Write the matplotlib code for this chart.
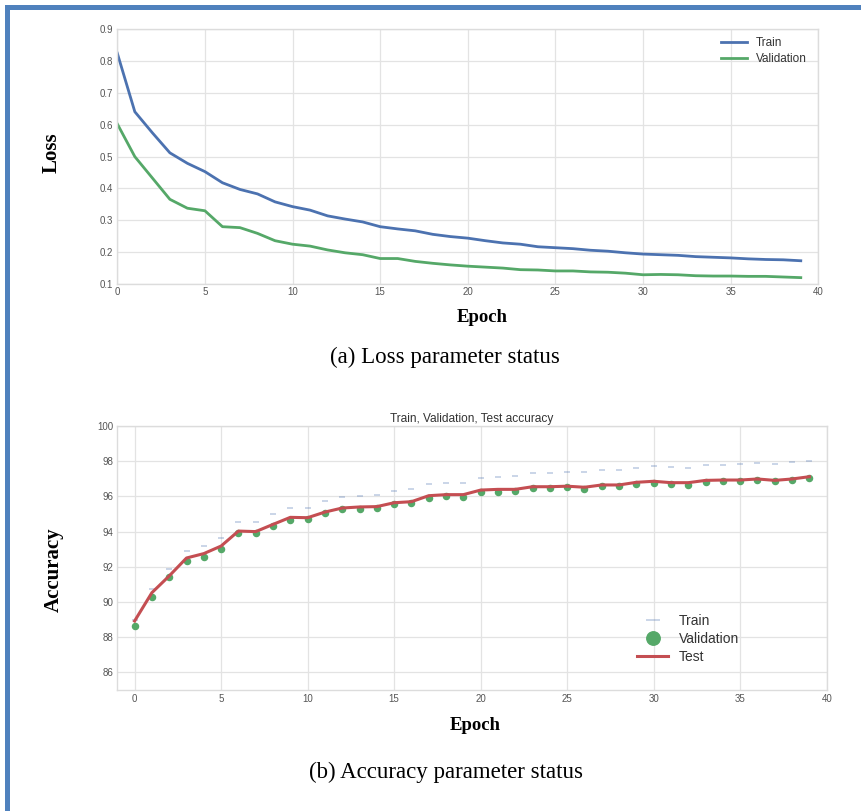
import matplotlib
matplotlib.use("Agg")
import matplotlib.pyplot as plt
import matplotlib.patches as mpatches
import numpy as np

plt.rcParams["font.family"] = ["Liberation Sans", "DejaVu Sans"]

# ============================================================
# 训练记录
# ============================================================
epochs = np.arange(40)

loss_train = [0.825, 0.641, 0.575, 0.512, 0.479, 0.453, 0.418, 0.397, 0.383, 0.358,
              0.343, 0.332, 0.314, 0.304, 0.295, 0.280, 0.273, 0.267, 0.256, 0.249,
              0.244, 0.236, 0.229, 0.225, 0.217, 0.214, 0.211, 0.206, 0.203, 0.198,
              0.194, 0.192, 0.190, 0.186, 0.184, 0.182, 0.179, 0.177, 0.176, 0.173]
loss_val = [0.603, 0.500, 0.433, 0.366, 0.338, 0.330, 0.280, 0.277, 0.259, 0.236,
            0.225, 0.219, 0.207, 0.198, 0.192, 0.180, 0.180, 0.171, 0.165, 0.160,
            0.156, 0.153, 0.150, 0.145, 0.144, 0.141, 0.141, 0.138, 0.137, 0.134,
            0.129, 0.130, 0.129, 0.126, 0.125, 0.125, 0.124, 0.124, 0.122, 0.120]

acc_train = [89.00, 90.74, 91.86, 92.92, 93.18, 93.64, 94.55, 94.55, 94.98, 95.34,
             95.34, 95.74, 95.97, 96.02, 96.06, 96.32, 96.40, 96.70, 96.78, 96.78,
             97.05, 97.08, 97.16, 97.33, 97.33, 97.40, 97.40, 97.48, 97.48, 97.59,
             97.71, 97.69, 97.63, 97.77, 97.78, 97.82, 97.92, 97.86, 97.95, 97.99]
acc_val = [88.65, 90.28, 91.44, 92.33, 92.58, 93.03, 93.94, 93.94, 94.34, 94.66,
           94.70, 95.04, 95.27, 95.30, 95.34, 95.57, 95.61, 95.89, 96.00, 95.97,
           96.23, 96.27, 96.32, 96.48, 96.48, 96.52, 96.42, 96.57, 96.57, 96.70,
           96.78, 96.70, 96.65, 96.82, 96.86, 96.86, 96.93, 96.86, 96.93, 97.05]
acc_test = [88.92, 90.53, 91.48, 92.50, 92.75, 93.18, 94.03, 94.00, 94.41, 94.81,
            94.79, 95.11, 95.34, 95.40, 95.42, 95.64, 95.70, 96.04, 96.10, 96.10,
            96.36, 96.40, 96.40, 96.55, 96.55, 96.58, 96.52, 96.65, 96.65, 96.80,
            96.86, 96.78, 96.78, 96.91, 96.93, 96.93, 96.99, 96.91, 96.99, 97.12]

loss_yticks = [0.1, 0.2, 0.3, 0.4, 0.5, 0.6, 0.7, 0.8, 0.9]
acc_yticks = [86, 88, 90, 92, 94, 96, 98, 100]
xticks = [0, 5, 10, 15, 20, 25, 30, 35, 40]

# 颜色
C_BLUE = "#4C72B0"
C_GREEN = "#55A868"
C_RED = "#C44E52"
C_GRID = "#e3e3e3"
C_TICK = "#555555"
C_FRAME = "#4F81BD"

SERIF = ["Liberation Serif", "DejaVu Serif"]

fig = plt.figure(figsize=(8.61, 8.11), dpi=100)
W, H = 861, 811


def style_axes(ax):
    ax.set_facecolor("white")
    ax.grid(True, color=C_GRID, linewidth=0.9)
    ax.set_axisbelow(True)
    for sp in ax.spines.values():
        sp.set_color("#dcdcdc")
        sp.set_linewidth(1.0)
    ax.tick_params(length=0, labelsize=7, labelcolor=C_TICK, pad=3)


# ===== 损失曲线 =====
ax1 = fig.add_axes([117.3 / W, 1 - 284 / H, 701 / W, 254.7 / H])
ax1.plot(epochs, loss_train, color=C_BLUE, linewidth=2.0, label="Train")
ax1.plot(epochs, loss_val, color=C_GREEN, linewidth=2.0, label="Validation")
ax1.set_xlim(0, 40)
ax1.set_ylim(0.1, 0.9)
ax1.set_xticks(xticks)
ax1.set_yticks(loss_yticks)
ax1.set_yticklabels([f"{v:.1f}" for v in loss_yticks])
style_axes(ax1)
ax1.tick_params(axis="x", pad=2)
leg1 = ax1.legend(loc="center", bbox_to_anchor=(0.9225, 0.915), frameon=False,
                  fontsize=8.5, handlelength=2.2, handletextpad=0.7, labelspacing=0.35)
for t in leg1.get_texts():
    t.set_color("#333333")

# ===== 准确率曲线 =====
ax2 = fig.add_axes([117.3 / W, 1 - 690 / H, 709.4 / W, 264 / H])
ax2.plot(epochs, acc_train, linestyle="none", marker="_", markersize=4.5,
         markeredgewidth=1.2, color=C_BLUE, alpha=0.35, label="Train")
ax2.plot(epochs, acc_val, linestyle="none", marker="o", markersize=4.4,
         color=C_GREEN, label="Validation")
ax2.plot(epochs, acc_test, color=C_RED, linewidth=2.2, label="Test")
ax2.set_xlim(-1, 40)
ax2.set_ylim(85, 100)
ax2.set_xticks(xticks)
ax2.set_yticks(acc_yticks)
style_axes(ax2)
ax2.set_title("Train, Validation, Test accuracy", fontsize=8.6, color="#333333", pad=3)
leg2 = ax2.legend(loc="center", bbox_to_anchor=(0.805, 0.193), frameon=False,
                  fontsize=10, markerscale=2.2, handlelength=2.2, handletextpad=0.8,
                  labelspacing=0.3)
for t in leg2.get_texts():
    t.set_color("#333333")

# ===== 轴标签与图注 =====
fig.text(52 / W, 1 - 153 / H, "Loss", rotation=90, ha="center", va="center",
         family=SERIF, fontsize=15, fontweight="bold")
fig.text(54 / W, 1 - 570 / H, "Accuracy", rotation=90, ha="center", va="center",
         family=SERIF, fontsize=15, fontweight="bold")
fig.text(482 / W, 1 - 318 / H, "Epoch", ha="center", va="center",
         family=SERIF, fontsize=13.5, fontweight="bold")
fig.text(475 / W, 1 - 726 / H, "Epoch", ha="center", va="center",
         family=SERIF, fontsize=13.5, fontweight="bold")
fig.text(445 / W, 1 - 357 / H, "(a) Loss parameter status", ha="center", va="center",
         family=SERIF, fontsize=16.5)
fig.text(446 / W, 1 - 772 / H, "(b) Accuracy parameter status", ha="center", va="center",
         family=SERIF, fontsize=16.5)

# 蓝色边框（左、上）
fig.patches.append(mpatches.Rectangle((5 / W, 0), 5 / W, 1 - 5 / H, transform=fig.transFigure,
                                      facecolor=C_FRAME, edgecolor="none"))
fig.patches.append(mpatches.Rectangle((5 / W, 1 - 10 / H), 1, 5 / H, transform=fig.transFigure,
                                      facecolor=C_FRAME, edgecolor="none"))

fig.savefig("out.png", dpi=100, facecolor="white")
